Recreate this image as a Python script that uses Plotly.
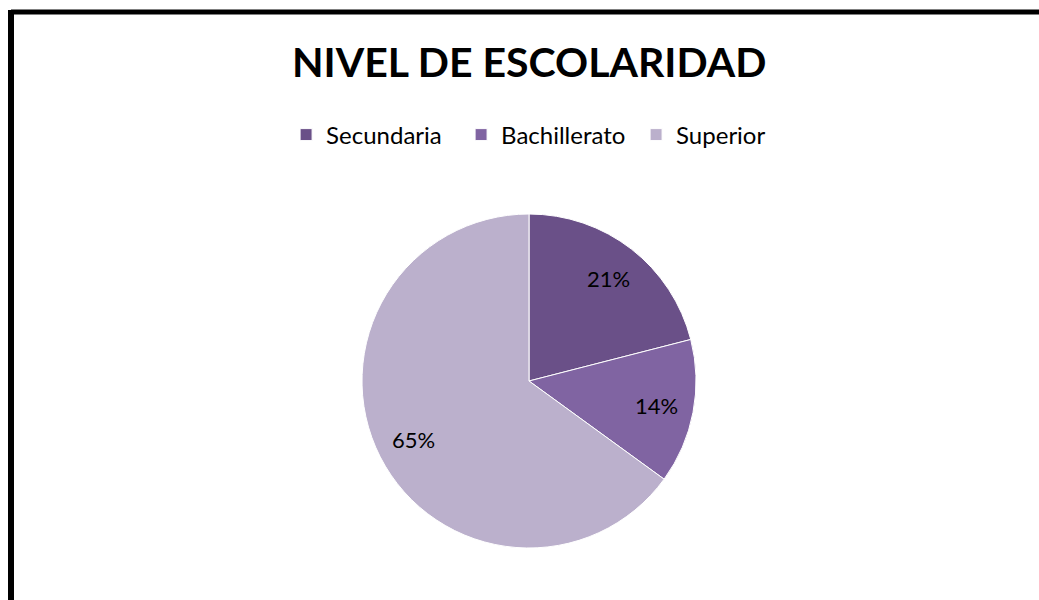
import math
import plotly.graph_objects as go

categories = ["Secundaria", "Bachillerato", "Superior"]
values = [21, 14, 65]
colors = ["#6A5088", "#8064A2", "#BBB0CC"]
title_text = "NIVEL DE ESCOLARIDAD"

W, H = 1039, 600
cx, cy, r = 529, 381, 167

fig = go.Figure(go.Pie(
    labels=categories,
    values=values,
    sort=False,
    direction="clockwise",
    rotation=0,
    marker=dict(colors=colors, line=dict(color="white", width=1)),
    textinfo="none",
    domain=dict(x=[(cx - r) / W, (cx + r) / W], y=[1 - (cy + r) / H, 1 - (cy - r) / H]),
    hoverinfo="label+percent",
))

# data labels placed at the mid-angle of each slice (computed from the values)
total = sum(values)
annotations = []
cum = 0
for v in values:
    mid = (cum + v / 2) / total * 2 * math.pi
    cum += v
    lr = 0.775 * r
    px = cx + lr * math.sin(mid)
    py = cy - lr * math.cos(mid)
    annotations.append(dict(
        text=f"{round(v / total * 100)}%",
        x=px / W, y=1 - py / H, xref="paper", yref="paper",
        xanchor="center", yanchor="middle", showarrow=False,
        font=dict(family="Lato", size=22, color="black"),
    ))

annotations.append(dict(
    text="<b>" + title_text + "</b>",
    x=cx / W, y=1 - 62 / H, xref="paper", yref="paper",
    xanchor="center", yanchor="middle", showarrow=False,
    font=dict(family="Lato", size=41, color="black"),
))

fig.update_layout(
    width=W, height=H,
    margin=dict(l=0, r=0, t=0, b=0),
    paper_bgcolor="white",
    plot_bgcolor="white",
    font=dict(family="Lato", color="black"),
    showlegend=True,
    legend=dict(
        orientation="h",
        x=0.528, xanchor="center",
        y=1 - 135 / H, yanchor="middle",
        font=dict(family="Lato", size=24, color="black"),
        traceorder="normal",
        itemwidth=30,
        entrywidth=130,
    ),
    annotations=annotations,
    shapes=[
        dict(type="line", xref="paper", yref="paper",
             x0=11 / W, x1=1.02, y0=1 - 12 / H, y1=1 - 12 / H,
             line=dict(color="black", width=5)),
        dict(type="line", xref="paper", yref="paper",
             x0=11 / W, x1=11 / W, y0=1 - 10 / H, y1=-0.02,
             line=dict(color="black", width=6)),
    ],
)

fig.write_html(
    "out.html",
    config={"displayModeBar": False},
    post_script="document.body.style.margin='0';document.body.style.overflow='hidden';",
)
